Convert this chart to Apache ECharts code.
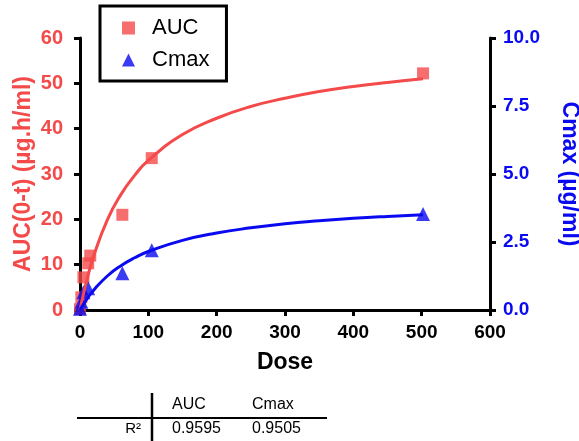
<!DOCTYPE html>
<html>
<head>
<meta charset="utf-8">
<script src="https://cdn.jsdelivr.net/npm/echarts@6/dist/echarts.min.js"></script>
<style>
  html, body { margin: 0; padding: 0; background: #fff; }
  #chart { width: 579px; height: 441px; }
</style>
</head>
<body>
<div id="chart"></div>
<script>
// measured points (dose, value)
const aucPoints = [[0, 0.2], [2, 2.8], [5, 7.2], [12, 10.3], [15, 12], [62, 21], [105, 33.5], [502, 52.2]];
const cmaxPoints = [[0, 0.05], [2, 0.3], [5, 0.65], [12, 0.8], [62, 1.35], [105, 2.2], [502, 3.53]];

// fitted curves
const fitDose = [0, 5, 10, 20, 40, 60, 80, 100, 150, 200, 250, 300, 350, 400, 450, 502];
const aucFit = [0, 3.5, 6.6, 11.9, 19.9, 25.5, 29.7, 33.0, 38.7, 42.3, 44.9, 46.7, 48.2, 49.3, 50.2, 51.0];
const cmaxFit = [0, 0.21, 0.40, 0.73, 1.25, 1.63, 1.92, 2.15, 2.56, 2.83, 3.02, 3.17, 3.28, 3.37, 3.44, 3.50];

// R² table
const tableCols = ["AUC", "Cmax"];
const r2Values = ["0.9595", "0.9505"];

const RED = "#F44A4A";
const BLUE = "#0A0AF0";
const FONT = "Arial, 'Liberation Sans', sans-serif";

const chart = echarts.init(document.getElementById("chart"));

// little R² table under the plot
const tableGraphic = [
  { type: "line", shape: { x1: 77, y1: 418, x2: 327, y2: 418 }, style: { stroke: "#000", lineWidth: 2 } },
  { type: "line", shape: { x1: 152, y1: 393, x2: 152, y2: 441 }, style: { stroke: "#000", lineWidth: 2.5 } },
  { type: "text", x: 141, y: 429, style: { text: "R²", fill: "#000", font: "15px " + FONT, align: "right", verticalAlign: "middle" } }
];
const colX = [172, 252];
tableCols.forEach((c, i) => {
  tableGraphic.push({ type: "text", x: colX[i], y: 405, style: { text: c, fill: "#000", font: "16px " + FONT, verticalAlign: "middle" } });
  tableGraphic.push({ type: "text", x: colX[i], y: 429, style: { text: r2Values[i], fill: "#000", font: "16px " + FONT, verticalAlign: "middle" } });
});

const option = {
  animation: false,
  textStyle: { fontFamily: FONT },
  grid: { left: 80, right: 89, top: 38, bottom: 131, outerBoundsMode: "none", containLabel: false },
  legend: {
    orient: "vertical",
    left: 100,
    top: 6,
    data: [
      { name: "AUC", icon: "rect" },
      { name: "Cmax", icon: "triangle" }
    ],
    itemWidth: 13,
    itemHeight: 13,
    itemGap: 10,
    padding: [11, 17, 10, 22],
    borderColor: "#000",
    borderWidth: 3,
    textStyle: { fontSize: 22, color: "#000", padding: [0, 0, 0, 12] }
  },
  xAxis: {
    type: "value",
    min: 0, max: 600, interval: 100,
    name: "Dose",
    nameLocation: "middle",
    nameGap: 41,
    nameMoveOverlap: false,
    nameTextStyle: { fontSize: 23, fontWeight: "bold", color: "#000" },
    axisLine: { lineStyle: { color: "#000", width: 3 } },
    axisTick: { show: true, length: 6, lineStyle: { width: 3, color: "#000" } },
    axisLabel: { fontSize: 19, fontWeight: "bold", color: "#000", margin: 13 },
    splitLine: { show: false }
  },
  yAxis: [
    {
      type: "value",
      min: 0, max: 60, interval: 10,
      name: "AUC(0-t) (µg.h/ml)",
      nameLocation: "middle",
      nameRotate: 90,
      nameGap: 45,
      nameMoveOverlap: false,
      nameTextStyle: { fontSize: 23, fontWeight: "bold", color: RED },
      axisLine: { show: true, lineStyle: { color: "#000", width: 3 } },
      axisTick: { show: true, length: 6, lineStyle: { width: 3, color: "#000" } },
      axisLabel: { fontSize: 20, fontWeight: "bold", color: RED, margin: 17 },
      splitLine: { show: false }
    },
    {
      type: "value",
      min: 0, max: 10, interval: 2.5,
      position: "right",
      name: "Cmax (µg/ml)",
      nameLocation: "middle",
      nameRotate: -90,
      nameGap: 68,
      nameMoveOverlap: false,
      nameTextStyle: { fontSize: 23, fontWeight: "bold", color: BLUE },
      axisLine: { show: true, lineStyle: { color: "#000", width: 3 } },
      axisTick: { show: true, length: 6, lineStyle: { width: 3, color: "#000" } },
      axisLabel: { fontSize: 19, fontWeight: "bold", color: BLUE, margin: 13, formatter: v => v.toFixed(1) },
      splitLine: { show: false }
    }
  ],
  series: [
    {
      name: "AUC fit", type: "line", yAxisIndex: 0, smooth: true, showSymbol: false,
      data: fitDose.map((d, i) => [d, aucFit[i]]),
      lineStyle: { color: RED, width: 3 }, itemStyle: { color: RED }
    },
    {
      name: "Cmax fit", type: "line", yAxisIndex: 1, smooth: true, showSymbol: false,
      data: fitDose.map((d, i) => [d, cmaxFit[i]]),
      lineStyle: { color: BLUE, width: 3 }, itemStyle: { color: BLUE }
    },
    {
      name: "AUC", type: "scatter", yAxisIndex: 0, symbol: "rect", symbolSize: 12,
      data: aucPoints, itemStyle: { color: RED }
    },
    {
      name: "Cmax", type: "scatter", yAxisIndex: 1, symbol: "triangle", symbolSize: 14,
      data: cmaxPoints, itemStyle: { color: BLUE }
    }
  ],
  graphic: tableGraphic
};

chart.setOption(option);
</script>
</body>
</html>
